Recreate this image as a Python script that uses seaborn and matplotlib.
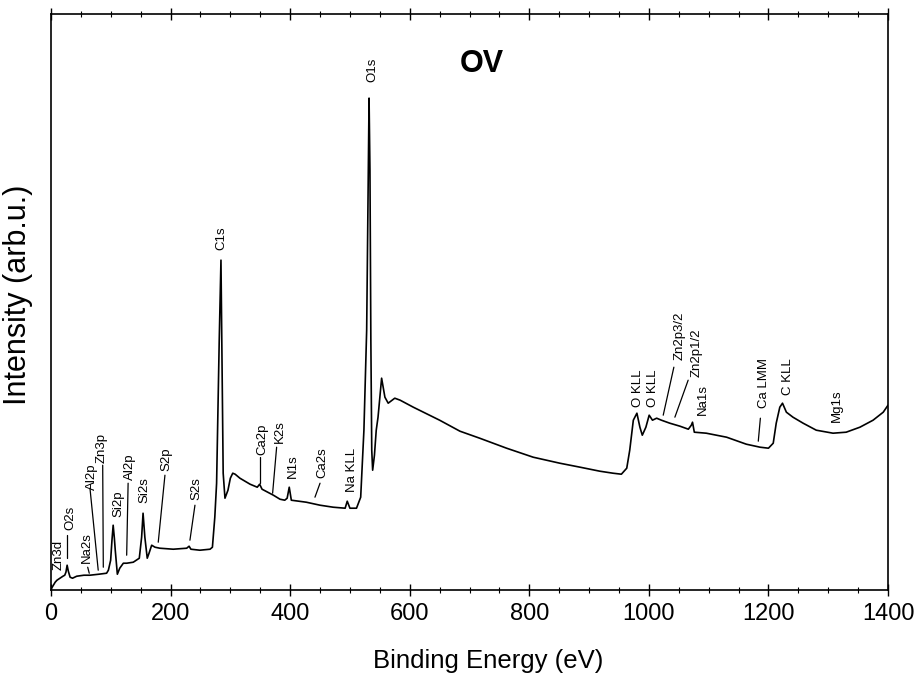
import matplotlib
matplotlib.use("Agg")
import matplotlib.pyplot as plt
from matplotlib.ticker import MultipleLocator
import seaborn as sns
import pandas as pd

# ---- spectrum (binding energy in eV, intensity in arb. units) ----
energy = [0, 3, 7, 10, 15, 20, 23, 25, 27, 29, 32, 36, 43, 55, 65, 80, 93, 96, 99.8, 102, 104,
          106, 107.5, 111, 115, 121, 126.6, 137.6, 147.7, 151.6, 154, 157, 161, 164, 168.4, 174,
          182, 204.5, 227, 231, 234, 249, 266, 270, 274, 277, 281.4, 284.3, 286.3, 288, 291,
          296, 300, 304, 308, 316, 333, 345, 349, 353, 372, 383, 391, 395, 398.5, 402, 427,
          450, 472, 492, 495.5, 500, 511, 518, 523.4, 528, 530.5, 532, 533.5, 535, 536.5, 538,
          541, 544, 547, 553, 558.5, 564, 575, 584, 606, 650, 684, 717, 762, 806.5, 851, 885,
          918, 940, 954, 963, 968, 974, 980, 985, 989, 995, 1000.5, 1006, 1013, 1021, 1035,
          1052, 1066, 1071, 1073, 1076, 1096, 1130, 1163, 1186, 1200, 1208, 1213, 1219, 1223.5,
          1230, 1241, 1258, 1280, 1308, 1330, 1353, 1375, 1392, 1400]
intensity = [1, 4, 8, 10, 12, 14, 15, 18, 25, 19, 13, 12, 14, 15, 15, 16, 17, 20, 30, 50, 65,
             52, 40, 16, 22, 27, 27, 28, 32, 53, 77, 53, 32, 37, 45, 43,
             42, 41, 42, 44, 41, 40, 41, 43, 73, 107, 250, 330, 217, 117, 92,
             100, 112, 117, 116, 112, 106, 103, 106, 101, 95, 91, 90, 92, 103, 90, 88,
             85, 83, 82, 89, 82, 82, 93, 160, 260, 400, 492, 420, 250, 140, 120,
             135, 160, 173, 212, 193, 187, 192, 190, 183, 170, 159, 152, 142, 133, 127, 123,
             119, 117, 116, 122, 140, 170, 177, 163, 155, 163, 175, 170, 172, 170, 167,
             164, 161, 165, 168, 158, 157, 153, 146, 143, 142, 147, 167, 183, 187,
             178, 173, 167, 160, 157, 158, 163, 170, 178, 185]

# ---- peak labels: text, x (eV), bottom of text (intensity) ----
label_text = ["Zn3d", "O2s", "Na2s", "Al2p", "Zn3p", "Si2p", "Al2p", "Si2s", "S2p", "S2s",
              "C1s", "Ca2p", "K2s", "N1s", "Ca2s", "Na KLL", "O1s", "O KLL", "O KLL",
              "Zn2p3/2", "Zn2p1/2", "Na1s", "Ca LMM", "C KLL", "Mg1s"]
label_x = [12.2, 31.8, 59.7, 68, 84.8, 112.5, 132, 157, 193.5, 243.6,
           284.3, 352.8, 383, 405, 454, 503, 538, 981.6, 1007.5,
           1052, 1080, 1091, 1192.3, 1233, 1314]
label_y = [20, 60, 27, 100, 127, 73, 110, 87, 119, 90,
           340, 135, 147, 112, 112, 98, 508, 183, 183,
           230, 213, 175, 182, 195, 168]

# ---- leader lines: (x0, y0) -> (x1, y1) in data units ----
lead_x0 = [26.3, 61.4, 65.2, 86.5, 129, 190.6, 240.8, 349.5, 377.4, 450, 1041.8, 1065.7, 1186.5]
lead_y0 = [55, 23, 102, 125, 107, 115, 85, 133, 143, 107, 223, 210, 172]
lead_x1 = [26.3, 64, 79, 87.5, 126.6, 179.4, 232.4, 349.5, 370.7, 441.5, 1024, 1043.5, 1183]
lead_y1 = [32, 17, 20, 23, 35, 48, 50, 107, 97, 93, 175, 173, 149]

sns.set_style("white")
plt.rcParams["font.family"] = ["Liberation Sans", "DejaVu Sans"]
plt.rcParams["text.color"] = "black"
plt.rcParams["axes.labelcolor"] = "black"
plt.rcParams["xtick.color"] = "black"
plt.rcParams["ytick.color"] = "black"

fig, ax = plt.subplots(figsize=(9.17, 6.73), dpi=100)
fig.subplots_adjust(left=0.0556, right=0.9684, top=0.979, bottom=0.123)

df = pd.DataFrame({"energy": energy, "intensity": intensity})
sns.lineplot(data=df, x="energy", y="intensity", ax=ax, color="black",
             linewidth=1.2, estimator=None, sort=False)

for t, x, y in zip(label_text, label_x, label_y):
    ax.text(x, y, t, rotation=90, ha="center", va="bottom", fontsize=9.5, color="black")

for x0, y0, x1, y1 in zip(lead_x0, lead_y0, lead_x1, lead_y1):
    ax.plot([x0, x1], [y0, y1], color="black", linewidth=0.9)

ax.text(721, 526, "OV", ha="center", va="center", fontsize=22, fontweight="bold",
        color="black")

ax.set_xlim(0, 1400)
ax.set_ylim(0, 576)
ax.xaxis.set_major_locator(MultipleLocator(200))
ax.xaxis.set_minor_locator(MultipleLocator(50))
ax.tick_params(axis="x", which="major", direction="inout", length=8, width=1,
               top=True, bottom=True, labelsize=17, pad=5, color="black",
               labelcolor="black")
ax.tick_params(axis="x", which="minor", direction="inout", length=5, width=0.8,
               top=True, bottom=True, color="black")
ax.set_yticks([])

for s in ax.spines.values():
    s.set_visible(True)
    s.set_color("black")
    s.set_linewidth(1.2)

ax.set_xlabel("Binding Energy (eV)", fontsize=18.5, color="black")
ax.xaxis.set_label_coords(0.522, -0.102)
ax.set_ylabel("Intensity (arb.u.)", fontsize=22, color="black")
ax.yaxis.set_label_coords(-0.0215, 0.512)

fig.savefig("out.png", dpi=100, facecolor="white")
